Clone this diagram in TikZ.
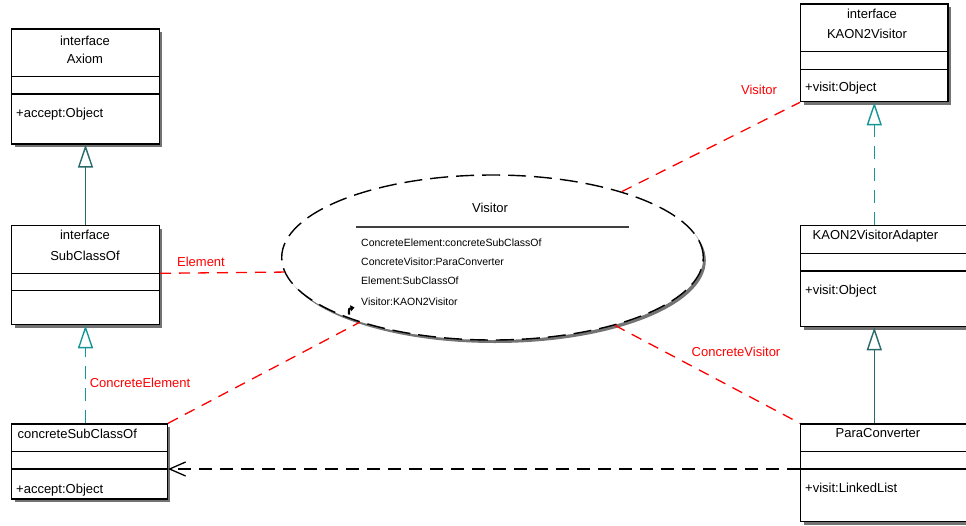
\documentclass[tikz,border=0pt]{standalone}
\usepackage{fontspec}
\setmainfont{Liberation Sans}
\usetikzlibrary{shapes.geometric,shadows,arrows.meta,calc}
\definecolor{tealdark}{RGB}{40,105,105}
\definecolor{teallight}{RGB}{20,150,150}
\definecolor{umlred}{RGB}{255,0,0}
\definecolor{shadowgray}{RGB}{115,115,115}
\begin{document}
\begin{tikzpicture}[x=1pt,y=-1pt,
  umlbox/.style={draw=black, line width=1.3pt, fill=white, inner sep=0pt, anchor=north west,
    drop shadow={shadow xshift=3pt, shadow yshift=-3pt, fill=shadowgray, opacity=1}},
  cline/.style={draw=black, line width=1.2pt},
  big/.style={font=\fontsize{13}{15}\selectfont, inner sep=0pt, anchor=base},
  bigw/.style={big, anchor=base west},
  small/.style={font=\fontsize{10.5}{12}\selectfont, inner sep=0pt, anchor=base west},
  redlbl/.style={big, text=umlred},
  redline/.style={draw=umlred, line width=1.3pt, dash pattern=on 11pt off 8pt},
  genarrow/.style={-{Triangle[open, length=23pt, width=15pt, line width=1.4pt]}},
  gensolid/.style={genarrow, draw=tealdark, line width=1.5pt},
  gendashed/.style={genarrow, draw=teallight, line width=1.5pt, dash pattern=on 13pt off 9pt},
  dep/.style={draw=black, line width=1.3pt, dash pattern=on 13pt off 8pt,
    -{Straight Barb[length=16pt, width=14pt, line width=1.3pt]}}
]
\useasboundingbox (0,0) rectangle (966,525);

% ---- Axiom
\node[umlbox, minimum width=147.7pt, minimum height=115pt] (axiom) at (11,28.3) {};
\draw[cline] ($(axiom.north west)+(0,48.4)$) -- ($(axiom.north east)+(0,48.4)$);
\draw[cline] ($(axiom.north west)+(0,65.7)$) -- ($(axiom.north east)+(0,65.7)$);
\node[big] (axiomA) at (85,45) {interface};
\node[big] (axiomB) at (85,63) {Axiom};
\node[bigw] (axiomC) at (16,117.5) {+accept:Object};

% ---- SubClassOf
\node[umlbox, minimum width=147.7pt, minimum height=99pt] (subc) at (11,225) {};
\draw[cline] ($(subc.north west)+(0,48.3)$) -- ($(subc.north east)+(0,48.3)$);
\draw[cline] ($(subc.north west)+(0,65.7)$) -- ($(subc.north east)+(0,65.7)$);
\node[big] (subcA) at (85,239.5) {interface};
\node[big] (subcB) at (85,260.5) {SubClassOf};

% ---- concreteSubClassOf
\node[umlbox, minimum width=155.7pt, minimum height=75pt] (conc) at (11,423.3) {};
\draw[cline] ($(conc.north west)+(0,28.4)$) -- ($(conc.north east)+(0,28.4)$);
\draw[cline] ($(conc.north west)+(0,45.7)$) -- ($(conc.north east)+(0,45.7)$);
\node[bigw] (concA) at (17.5,438.3) {concreteSubClassOf};
\node[bigw] (concB) at (16,493) {+accept:Object};

% ---- KAON2Visitor
\node[umlbox, minimum width=147.3pt, minimum height=97.7pt] (kaon) at (800,3.3) {};
\draw[cline] ($(kaon.north west)+(0,48.4)$) -- ($(kaon.north east)+(0,48.4)$);
\draw[cline] ($(kaon.north west)+(0,66)$) -- ($(kaon.north east)+(0,66)$);
\node[big] (kaonA) at (872,18.3) {interface};
\node[big] (kaonB) at (867,38.3) {KAON2Visitor};
\node[bigw] (kaonC) at (805,91.7) {+visit:Object};

% ---- KAON2VisitorAdapter
\node[umlbox, minimum width=180pt, minimum height=101pt] (adap) at (800,225) {};
\draw[cline] ($(adap.north west)+(0,28.3)$) -- ($(adap.north east)+(0,28.3)$);
\draw[cline] ($(adap.north west)+(0,46)$) -- ($(adap.north east)+(0,46)$);
\node[bigw] (adapA) at (812.5,239) {KAON2VisitorAdapter};
\node[bigw] (adapB) at (805,294) {+visit:Object};

% ---- ParaConverter
\node[umlbox, minimum width=180pt, minimum height=97.7pt] (para) at (800,423.3) {};
\draw[cline] ($(para.north west)+(0,28.4)$) -- ($(para.north east)+(0,28.4)$);
\draw[cline] ($(para.north west)+(0,45.7)$) -- ($(para.north east)+(0,45.7)$);
\node[big] (paraA) at (878,437.3) {ParaConverter};
\node[bigw] (paraB) at (805,492.7) {+visit:LinkedList};

% ---- Visitor collaboration
\node[ellipse, draw=black, line width=1.4pt, dash pattern=on 18pt off 8pt, fill=white,
  minimum width=421.6pt, minimum height=165pt, inner sep=0pt,
  drop shadow={shadow xshift=2.5pt, shadow yshift=-3pt, fill=shadowgray, opacity=1}]
  (visitor) at (492.5,257.5) {};
\node[big] (visT) at (490,212.7) {Visitor};
\coordinate (ruleL) at (356,226.7);
\coordinate (ruleR) at (629.3,226.7);
\draw[draw=black!75, line width=1.6pt] (ruleL) -- (ruleR);
\node[small] (visA) at (361,246.7) {ConcreteElement:concreteSubClassOf};
\node[small] (visB) at (361,265.7) {ConcreteVisitor:ParaConverter};
\node[small] (visC) at (361,284) {Element:SubClassOf};
\node[small] (visD) at (361,305) {Visitor:KAON2Visitor};
\draw[line width=2.2pt, -{Triangle[length=4pt, width=6pt]}] (349,314.5) .. controls (349,308.5) .. (354.5,307.5);

% ---- generalisations / realisations
\draw[gensolid] (subc.north) -- (axiom.south);
\draw[gendashed] (conc.north -| subc.south) -- (subc.south);
\draw[gendashed] (adap.north -| kaon.south) -- (kaon.south);
\draw[gensolid] (para.north -| kaon.south) -- (adap.south -| kaon.south);

% ---- dependency
\draw[dep] ($(para.north west)+(0,45.7)$) -- ($(conc.north east)+(0,45.7)$);

% ---- role bindings
\draw[redline] ($(subc.north east)+(0,48.3)$) -- (visitor.184.3);
\node[redlbl] (lblE) at (201,266) {Element};
\draw[redline] (conc.north east) -- (visitor.206.8);
\node[redlbl] (lblCE) at (140,387) {ConcreteElement};
\draw[redline] (visitor.27.9) -- (kaon.south west);
\node[redlbl] (lblV) at (759,94) {Visitor};
\draw[redline] (visitor.331.9) -- (para.north west);
\node[redlbl] (lblCV) at (736,356) {ConcreteVisitor};
\end{tikzpicture}
\end{document}
